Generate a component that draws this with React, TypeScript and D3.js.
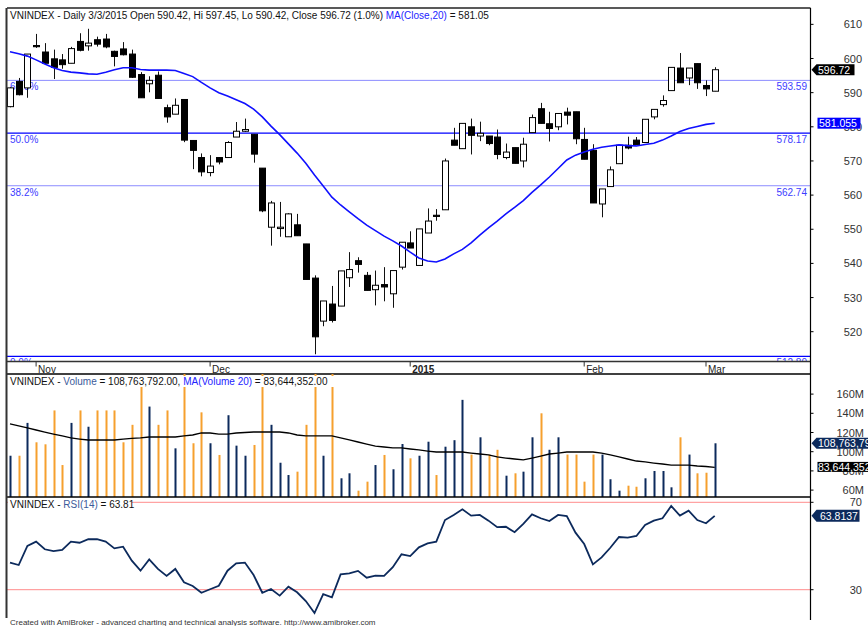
import React from 'react';
import * as d3 from 'd3';

const OPEN = [585.9,593.3,591.4,603.8,601.9,599.9,599.6,598.6,605.0,603.7,605.5,605.7,602.1,602.8,601.3,595.3,592.6,595.1,585.6,583.7,588.0,576.0,571.0,566.6,571.0,571.0,577.0,578.7,577.8,567.9,550.6,550.2,547.8,551.3,545.7,535.7,523.1,528.1,527.5,535.8,540.8,536.5,532.3,533.8,531.1,538.9,546.0,539.4,548.9,554.1,555.7,576.1,573.6,580.0,577.3,577.3,577.0,571.0,573.9,570.0,578.3,585.3,580.9,580.0,584.3,584.4,576.3,573.1,557.4,562.5,569.2,574.6,576.1,575.4,582.9,586.5,590.6,597.2,594.3,598.5,592.1,590.42];
const HIGH = [591.6,594.3,601.3,607.2,604.5,602.6,601.3,603.4,607.4,608.7,606.4,607.2,602.3,604.8,602.6,596.0,594.8,596.2,586.5,588.3,588.0,576.0,572.2,571.7,571.0,575.8,581.4,582.4,577.8,567.9,558.3,558.0,554.7,554.5,545.7,536.5,529.0,533.4,537.8,543.3,541.8,537.5,537.9,538.9,537.9,546.2,549.4,550.1,556.1,555.9,570.7,579.7,581.0,582.4,581.5,577.3,579.2,575.1,573.9,576.8,583.6,587.0,584.4,583.9,585.6,584.4,579.7,574.9,561.8,568.4,574.6,577.1,577.0,582.2,585.1,589.2,597.4,601.6,597.2,598.5,593.6,597.45];
const LOW = [585.7,589.2,588.5,603.1,598.4,594.0,597.0,598.6,602.1,602.3,603.5,603.0,597.7,600.9,594.3,588.5,590.1,588.3,581.2,583.7,575.5,567.6,565.5,565.5,569.0,571.0,577.0,578.5,569.5,555.0,545.2,547.8,547.8,548.1,535.3,513.4,521.6,522.7,527.5,533.1,537.3,532.1,527.7,528.9,527.0,538.2,544.5,539.4,548.9,552.5,555.7,574.6,573.6,571.9,575.8,574.6,570.5,570.5,569.3,568.1,578.3,581.0,575.7,579.0,580.7,574.9,570.5,557.7,553.5,562.5,569.2,573.4,574.8,575.4,582.2,585.9,590.6,592.9,592.2,591.1,589.0,590.42];
const CLOSE = [591.4,589.4,601.3,603.6,598.6,597.4,598.2,602.9,602.4,604.5,604.2,603.4,600.6,601.1,594.5,588.5,593.6,588.3,582.9,586.3,576.1,573.1,566.8,568.5,569.7,575.4,578.7,579.2,572.0,555.4,557.7,550.6,554.5,548.1,535.3,518.5,529.0,523.3,537.8,538.2,539.7,532.1,533.6,533.1,537.9,546.2,544.5,550.1,552.4,553.9,570.0,574.6,581.0,577.5,578.1,575.1,571.9,572.6,569.3,574.9,582.7,581.0,579.5,583.9,583.4,576.5,570.5,557.7,561.8,567.4,574.6,573.8,574.8,582.2,585.1,587.7,597.4,592.9,597.2,592.9,591.1,596.72];
const MA20 = [602.0,601.4,600.7,599.6,598.4,597.3,596.5,596.0,595.8,595.5,595.4,596.0,596.7,597.3,597.3,596.8,596.6,596.6,596.6,596.5,595.6,594.7,593.0,591.4,590.0,589.0,587.9,586.8,585.2,582.9,580.2,577.7,575.0,572.3,569.3,565.9,562.7,559.4,557.1,555.1,553.1,551.2,549.6,548.0,546.6,545.1,543.3,541.6,540.7,540.4,541.3,542.8,544.1,546.0,548.3,550.4,552.4,554.5,556.4,558.4,560.8,563.0,565.3,567.8,570.3,571.7,572.6,573.4,574.0,574.4,574.7,574.5,574.4,574.8,575.2,576.1,577.3,578.6,579.5,580.1,580.7,581.055];
const VOLUME = [95.8,95.8,130,109.8,107.7,143,86.1,130,143,126,143,143,143,109.8,128,175,147,128,143,103.5,182,108.8,141,108.8,96.6,138,106.3,95.8,107,199,128,88.5,75.7,79.2,128,196,95.8,199,72.3,77.5,59.4,68.8,86.1,96.6,81.7,108,93.1,95.8,110.4,75.7,105.2,112,154,97,115,97,102,75,77.5,79.2,115,140,102,115,97,97,68.8,97,97,71.3,59.4,64.6,63.5,72.3,79.9,79.9,62.9,115,97,77.5,78.1,108.76];
const VOL_UP = [1,0,1,0,0,0,0,1,0,1,0,0,0,0,0,0,1,0,0,1,0,0,0,1,0,1,1,1,0,0,1,1,1,0,0,0,1,0,1,1,0,0,1,0,1,1,0,1,1,0,1,1,1,0,1,0,0,1,0,1,1,0,1,1,0,0,0,0,1,1,1,0,0,1,1,1,1,0,1,0,0,1];
const VOL_MA = [128.9,126.8,124.7,122.6,120.5,118.4,116.4,114.3,113.2,112.2,112.2,112.2,112.2,113.2,113.8,114.3,115.3,115.3,115.3,115.3,116.4,117.4,119.5,119.5,118.4,118.4,119.5,120,120.5,120.5,120.5,120.5,119.5,117.4,116.4,116.4,116.4,116.4,114.3,112.2,110.1,108,105.9,104.9,103.9,103.9,102.8,101.8,100.7,99.7,99.7,99.7,99.7,98.6,97.6,96.6,94.5,93.4,92.4,91.4,93.4,95.5,97.6,98.6,99.7,99.7,99.7,99.7,98.6,96.6,94.5,92.4,90.3,89.3,88.2,87.2,86.1,86.1,86.1,85.1,84.6,83.644];
const RSI = [42.4,41.3,50.0,52.0,48.5,47.7,48.2,52.0,51.5,53.1,53.1,52.0,48.9,49.7,43.3,38.7,43.9,39.5,36.3,39.5,33.4,31.7,28.6,30.2,31.8,38.7,42.1,42.4,36.7,28.6,30.3,27.3,31.4,28.8,24.8,19.3,28.0,26.5,37.0,37.5,38.6,35.5,36.4,36.3,40.3,46.2,45.4,49.4,51.2,52.0,61.9,64.2,66.8,63.9,64.2,61.6,58.6,58.8,56.3,60.1,64.5,62.7,61.4,64.2,63.7,56.1,50.9,41.6,44.8,49.2,54.1,53.8,54.6,59.6,61.6,62.7,68.3,63.9,66.2,61.9,60.4,63.81];

const DATE_IDX = [3, 23, 46, 66, 80];
const DATE_LABELS = ['Nov', 'Dec', '2015', 'Feb', 'Mar'];
const PRICE_TICKS = [520, 530, 540, 550, 560, 570, 580, 590, 600, 610];
const VOL_TICKS = [60, 80, 100, 120, 140, 160];
const RSI_TICKS = [30, 70];
const FIB_PCT = ['61.8%', '50.0%', '38.2%', '0.0%'];
const FIB_VAL = [593.59, 578.17, 562.74, 512.80];

const FONT = '"Liberation Sans", Arial, sans-serif';
const NAVY = '#0c2a5c';
const ORANGE = '#f6a02e';
const BLUE = '#1010ff';

export default function App() {
  const n = CLOSE.length;
  const x = d3.scaleLinear().domain([0, n - 1]).range([10, 714.7]);
  const yP = d3.scaleLinear().domain([520, 610]).range([331.7, 24.35]);
  const yV = d3.scaleLinear().domain([60, 160]).range([490.1, 394.1]);
  const yR = d3.scaleLinear().domain([30, 70]).range([589.7, 502.3]);
  const L = 7, R = 810.5;
  const P_TOP = 8, P_AX = 361.5, P_BOT = 374, V_BOT = 497, R_BOT = 620;

  const maLine = d3.line<number>().x((_, i) => x(i)).y(d => yP(d)).curve(d3.curveLinear);
  const vmaLine = d3.line<number>().x((_, i) => x(i)).y(d => yV(d));
  const rsiLine = d3.line<number>().x((_, i) => x(i)).y(d => yR(d));

  const bw = 6;
  const last = n - 1;
  const arrowBox = (x0: number, yc: number, w: number, h: number) =>
    `M${x0},${yc} L${x0 + 5},${yc - h / 2} L${x0 + w},${yc - h / 2} L${x0 + w},${yc + h / 2} L${x0 + 5},${yc + h / 2} Z`;

  return (
    <svg width={868} height={626} style={{ position: 'absolute', left: 0, top: 0, background: '#fff' }} fontFamily={FONT}>
      <defs>
        <clipPath id="cp"><rect x={L} y={P_TOP} width={R - L} height={P_AX - P_TOP} /></clipPath>
        <clipPath id="cv"><rect x={L} y={P_BOT} width={R - L} height={V_BOT - P_BOT} /></clipPath>
        <clipPath id="cr"><rect x={L} y={V_BOT} width={R - L} height={R_BOT - V_BOT} /></clipPath>
      </defs>
      <rect x={0} y={0} width={868} height={626} fill="#fff" />

      {/* Price panel */}
      <g clipPath="url(#cp)">
        {FIB_VAL.map((v, i) => (
          <line key={'f' + i} x1={L} x2={R} y1={yP(v)} y2={yP(v)}
            stroke={i === 1 || i === 3 ? '#0000ff' : '#8c8cff'} strokeWidth={i === 1 || i === 3 ? 1.3 : 1} />
        ))}
        {FIB_VAL.map((v, i) => (
          <g key={'fl' + i} fontSize={10} fill="#3c3cff">
            <text x={10} y={yP(v) + 10}>{FIB_PCT[i]}</text>
            <text x={807} y={yP(v) + 10} textAnchor="end">{v.toFixed(2)}</text>
          </g>
        ))}
        {CLOSE.map((c, i) => {
          const o = OPEN[i];
          const up = c >= o;
          const top = yP(Math.max(o, c));
          const bot = yP(Math.min(o, c));
          const cx = Math.round(x(i)) + 0.5;
          return (
            <g key={'c' + i}>
              <line x1={cx} x2={cx} y1={yP(HIGH[i])} y2={yP(LOW[i])} stroke="#111" strokeWidth={1} />
              <rect x={cx - bw / 2} y={top} width={bw} height={Math.max(bot - top, 1.2)}
                fill={up ? '#fff' : '#000'} stroke="#000" strokeWidth={1} />
            </g>
          );
        })}
        <path d={maLine(MA20) || ''} fill="none" stroke={BLUE} strokeWidth={1.6} />
      </g>
      <rect x={8} y={9} width={500} height={13} fill="#fff" />
      <text x={10} y={18.5} fontSize={10} fill="#111">
        VNINDEX - Daily 3/3/2015 Open 590.42, Hi 597.45, Lo 590.42, Close 596.72 (1.0%) <tspan fill="#2323ff">MA(Close,20)</tspan> = 581.05
      </text>
      {/* date axis */}
      <line x1={L} x2={R} y1={P_AX} y2={P_AX} stroke="#333" strokeWidth={1.6} />
      {DATE_IDX.map((d, i) => (
        <g key={'d' + i}>
          <line x1={x(d)} x2={x(d)} y1={P_AX} y2={P_AX + 5} stroke="#333" />
          <text x={x(d) + 2} y={P_AX + 11} fontSize={10} fontWeight={i === 2 ? 'bold' : 'normal'} fill="#222">{DATE_LABELS[i]}</text>
        </g>
      ))}
      <line x1={L} x2={R} y1={P_BOT} y2={P_BOT} stroke="#000" strokeWidth={1.5} />

      {/* Volume panel */}
      <g clipPath="url(#cv)">
        {VOLUME.map((v, i) => (
          <rect key={'v' + i} x={Math.round(x(i)) - 0.5} y={yV(v)} width={2} height={V_BOT - yV(v)}
            fill={VOL_UP[i] ? NAVY : ORANGE} />
        ))}
        <path d={vmaLine(VOL_MA) || ''} fill="none" stroke="#000" strokeWidth={1.3} />
      </g>
      <rect x={8} y={376} width={470} height={11} fill="#fff" />
      <text x={10} y={384.5} fontSize={10} fill="#111">
        VNINDEX - <tspan fill="#3c5a9a">Volume</tspan> = 108,763,792.00, <tspan fill="#2323ff">MA(Volume 20)</tspan> = 83,644,352.00
      </text>
      <line x1={L} x2={R} y1={V_BOT} y2={V_BOT} stroke="#000" strokeWidth={1.5} />

      {/* RSI panel */}
      <g clipPath="url(#cr)">
        {RSI_TICKS.map(t => (
          <line key={'rl' + t} x1={L} x2={R} y1={yR(t)} y2={yR(t)} stroke="#ff8c8c" strokeWidth={1} />
        ))}
        <path d={rsiLine(RSI) || ''} fill="none" stroke={NAVY} strokeWidth={1.8} />
      </g>
      <rect x={8} y={499} width={124} height={12} fill="#fff" />
      <text x={10} y={508} fontSize={10} fill="#111">
        VNINDEX - <tspan fill="#3c5a9a">RSI(14)</tspan> = 63.81
      </text>

      {/* frame */}
      <line x1={L} x2={R} y1={P_TOP} y2={P_TOP} stroke="#222" strokeWidth={1.5} />
      <line x1={6.5} x2={6.5} y1={P_TOP} y2={618} stroke="#333" strokeWidth={2} />
      <line x1={R} x2={R} y1={P_TOP} y2={R_BOT} stroke="#000" strokeWidth={1.2} />

      {/* right axes */}
      {PRICE_TICKS.map(t => (
        <g key={'pt' + t}>
          <line x1={R} x2={R + 3} y1={yP(t)} y2={yP(t)} stroke="#000" />
          <text x={862} y={yP(t) + 4} fontSize={11} textAnchor="end" fill="#333">{t}</text>
        </g>
      ))}
      {VOL_TICKS.map(t => (
        <g key={'vt' + t}>
          <line x1={R} x2={R + 3} y1={yV(t)} y2={yV(t)} stroke="#000" />
          <text x={864} y={yV(t) + 4} fontSize={11} textAnchor="end" fill="#333">{t}M</text>
        </g>
      ))}
      {RSI_TICKS.map(t => (
        <g key={'rt' + t}>
          <line x1={R} x2={R + 3} y1={yR(t)} y2={yR(t)} stroke="#000" />
          <text x={862} y={yR(t) + 4} fontSize={11} textAnchor="end" fill="#333">{t}</text>
        </g>
      ))}

      {/* value labels */}
      <path d={arrowBox(811.5, yP(CLOSE[last]), 43, 11)} fill="#000" />
      <text x={818} y={yP(CLOSE[last]) + 4} fontSize={10.5} fill="#fff">{CLOSE[last].toFixed(2)}</text>
      <rect x={817.5} y={yP(MA20[last]) - 5.5} width={43} height={11} fill="#0000ff" />
      <text x={819} y={yP(MA20[last]) + 4} fontSize={10.5} fill="#fff">{MA20[last].toFixed(3)}</text>

      <path d={arrowBox(811.5, yV(VOLUME[last]), 60, 11)} fill={NAVY} />
      <text x={818} y={yV(VOLUME[last]) + 4} fontSize={10.5} fill="#fff">108,763,792</text>
      <rect x={817.5} y={yV(VOL_MA[last]) - 5.5} width={52} height={10} fill="#000" />
      <text x={818} y={yV(VOL_MA[last]) + 3.5} fontSize={10.5} fill="#fff">83,644,352</text>

      <path d={arrowBox(811.5, yR(RSI[last]), 48, 12)} fill={NAVY} />
      <text x={820} y={yR(RSI[last]) + 4} fontSize={10.5} fill="#fff">63.8137</text>

      <text x={10} y={625} fontSize={8} fill="#333">
        Created with AmiBroker - advanced charting and technical analysis software. http://www.amibroker.com
      </text>
    </svg>
  );
}
